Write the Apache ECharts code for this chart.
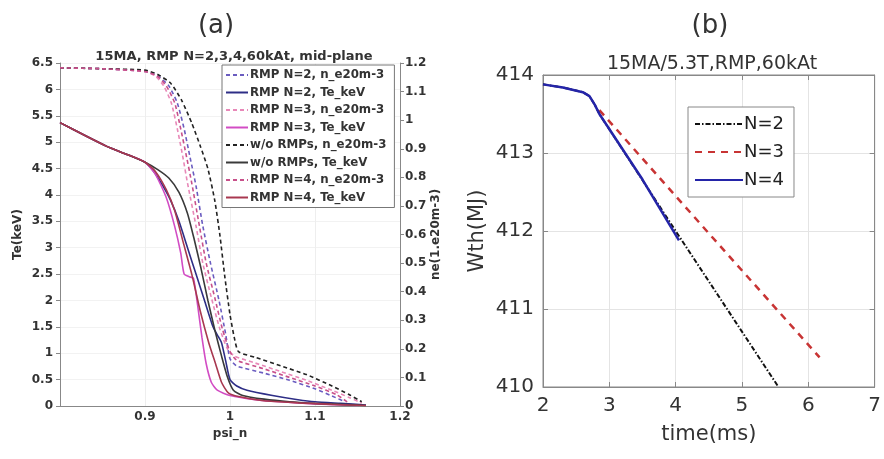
<!DOCTYPE html>
<html>
<head>
<meta charset="utf-8">
<script src="https://cdn.jsdelivr.net/npm/echarts@6/dist/echarts.min.js"></script>
<style>html,body{margin:0;padding:0;background:#fff;}#c{width:884px;height:459px;}</style>
</head>
<body>
<div id="c"></div>
<script>
// ---------- Panel (a) data: [psi_n, value] ----------
var n2_ne = [[0.8,1.183],[0.85,1.18],[0.9,1.17],[0.915,1.155],[0.928,1.12],[0.938,1.06],[0.946,0.97],[0.953,0.87],[0.96,0.77],[0.968,0.63],[0.977,0.5],[0.987,0.37],[0.995,0.25],[1.0,0.165],[1.008,0.14],[1.04,0.115],[1.07,0.09],[1.1,0.06],[1.12,0.035],[1.135,0.015]];
var n2_te = [[0.8,5.37],[0.83,5.12],[0.855,4.92],[0.88,4.76],[0.9,4.62],[0.91,4.45],[0.92,4.2],[0.93,3.9],[0.94,3.5],[0.95,3.0],[0.96,2.5],[0.97,2.0],[0.98,1.5],[0.985,1.35],[0.99,1.2],[0.995,0.85],[1.0,0.5],[1.008,0.38],[1.02,0.3],[1.05,0.2],[1.08,0.12],[1.1,0.08],[1.13,0.05],[1.16,0.02]];
var n3_ne = [[0.8,1.183],[0.85,1.18],[0.9,1.17],[0.912,1.155],[0.922,1.12],[0.931,1.06],[0.938,0.97],[0.944,0.88],[0.95,0.78],[0.96,0.63],[0.968,0.5],[0.978,0.38],[0.988,0.27],[0.997,0.2],[1.005,0.175],[1.03,0.15],[1.06,0.12],[1.09,0.09],[1.12,0.055],[1.14,0.03],[1.155,0.01]];
var n3_te = [[0.8,5.37],[0.83,5.12],[0.855,4.92],[0.88,4.76],[0.9,4.62],[0.912,4.4],[0.925,3.95],[0.935,3.4],[0.942,2.9],[0.946,2.5],[0.952,2.45],[0.957,2.42],[0.962,1.9],[0.967,1.3],[0.972,0.8],[0.978,0.45],[0.985,0.3],[1.0,0.2],[1.03,0.12],[1.06,0.08],[1.1,0.04],[1.15,0.01]];
var wo_ne = [[0.8,1.183],[0.85,1.18],[0.9,1.175],[0.915,1.16],[0.93,1.13],[0.943,1.07],[0.955,0.99],[0.965,0.91],[0.974,0.83],[0.982,0.72],[0.988,0.6],[0.994,0.45],[1.0,0.32],[1.005,0.24],[1.01,0.19],[1.03,0.17],[1.06,0.14],[1.09,0.11],[1.12,0.07],[1.14,0.04],[1.155,0.015]];
var wo_te = [[0.8,5.37],[0.83,5.12],[0.855,4.92],[0.88,4.76],[0.9,4.62],[0.915,4.48],[0.928,4.32],[0.94,4.05],[0.95,3.65],[0.958,3.15],[0.966,2.6],[0.974,2.0],[0.982,1.45],[0.99,0.95],[0.997,0.55],[1.004,0.3],[1.015,0.2],[1.04,0.13],[1.07,0.08],[1.1,0.05],[1.13,0.03],[1.16,0.01]];
var n4_ne = [[0.8,1.183],[0.85,1.18],[0.9,1.17],[0.914,1.155],[0.925,1.12],[0.935,1.06],[0.942,0.97],[0.949,0.87],[0.955,0.78],[0.964,0.63],[0.972,0.5],[0.982,0.38],[0.991,0.27],[1.0,0.19],[1.008,0.16],[1.04,0.13],[1.07,0.1],[1.1,0.07],[1.125,0.04],[1.14,0.01]];
var n4_te = [[0.8,5.37],[0.83,5.12],[0.855,4.92],[0.88,4.76],[0.9,4.62],[0.912,4.45],[0.925,4.1],[0.935,3.7],[0.945,3.1],[0.955,2.5],[0.965,1.8],[0.975,1.2],[0.983,0.8],[0.99,0.45],[0.998,0.25],[1.01,0.18],[1.04,0.1],[1.08,0.06],[1.12,0.03],[1.16,0.01]];
var namesA = ['RMP N=2, n_e20m-3','RMP N=2, Te_keV','RMP N=3, n_e20m-3','RMP N=3, Te_keV','w/o RMPs, n_e20m-3','w/o RMPs, Te_keV','RMP N=4, n_e20m-3','RMP N=4, Te_keV'];

// ---------- Panel (b) data: [time ms, Wth MJ] ----------
var wN2 = [[2,413.88],[2.3,413.84],[2.6,413.78],[2.7,413.73],[2.78,413.62],[2.85,413.5],[4.0,412.0],[5.55,410.0]];
var wN3 = [[2.85,413.55],[4.5,411.97],[6.17,410.38]];
var wN4 = [[2,413.88],[2.3,413.84],[2.6,413.78],[2.7,413.73],[2.78,413.62],[2.85,413.5],[3.5,412.66],[4.05,411.88]];
var namesB = ['N=2','N=3','N=4'];

var fA = 'DejaVu Sans';
var fB = 'DejaVu Sans';
var chart = echarts.init(document.getElementById('c'));

function lineA(name, data, y, color, dashed) {
  return {name:name, type:'line', xAxisIndex:0, yAxisIndex:y, data:data, showSymbol:false, symbol:'none',
    smooth:0.2, lineStyle:{color:color, width:1.6, type: dashed ? [4,3] : 'solid'}, itemStyle:{color:color}, z: dashed?2:3};
}

var axLabA = {color:'#333', fontFamily:fA, fontWeight:'bold', fontSize:12};

chart.setOption({
  animation:false,
  backgroundColor:'#fff',
  title:[
    {text:'(a)', left:211, top:8, textAlign:'center', textStyle:{fontFamily:fB, fontWeight:'normal', fontSize:26, color:'#333'}},
    {text:'15MA, RMP N=2,3,4,60kAt, mid-plane', left:229, top:45, textAlign:'center', textStyle:{fontFamily:fA, fontWeight:'bold', fontSize:13, color:'#333'}},
    {text:'(b)', left:705, top:8, textAlign:'center', textStyle:{fontFamily:fB, fontWeight:'normal', fontSize:26, color:'#333'}},
    {text:'15MA/5.3T,RMP,60kAt', left:707, top:50, textAlign:'center', textStyle:{fontFamily:fB, fontWeight:'normal', fontSize:19, color:'#333'}}
  ],
  grid:[
    {left:60, top:63, width:340, height:343},
    {left:543, top:75, width:335, height:312, show:true, borderColor:'#888', borderWidth:1}
  ],
  legend:[
    {data:namesA, orient:'vertical', left:222, top:65, itemWidth:22, itemHeight:12, itemGap:5.5,
     padding:[4,8,4,3], borderColor:'#777', borderWidth:1, backgroundColor:'#fff',
     itemStyle:{opacity:0},
     textStyle:{fontFamily:fA, fontWeight:'bold', fontSize:11.8, color:'#333', padding:[0,0,0,-3]}},
    {data:namesB, orient:'vertical', left:688, top:107, itemWidth:48, itemHeight:18, itemGap:10,
     padding:[8,10,8,6], borderColor:'#888', borderWidth:1, backgroundColor:'#fff',
     itemStyle:{opacity:0},
     textStyle:{fontFamily:fB, fontSize:18, color:'#222', padding:[0,0,0,-4]}}
  ],
  xAxis:[
    {type:'value', gridIndex:0, min:0.8, max:1.2, interval:0.1, name:'psi_n', nameLocation:'middle', nameGap:20,
     nameTextStyle:axLabA,
     axisLine:{lineStyle:{color:'#888'}}, axisTick:{show:false},
     axisLabel:Object.assign({margin:5, showMinLabel:false}, axLabA),
     splitLine:{show:true, lineStyle:{color:'#eeeeee'}}},
    {type:'value', gridIndex:1, min:2, max:7, interval:1, name:'time(ms)', nameLocation:'middle', nameGap:37,
     nameTextStyle:{fontFamily:fB, fontSize:21, color:'#333'},
     axisLine:{lineStyle:{color:'#888'}}, axisTick:{inside:true, length:5, lineStyle:{color:'#888'}},
     axisLabel:{fontFamily:fB, fontSize:20, color:'#333', margin:9},
     splitLine:{show:true, lineStyle:{color:'#e4e4e4'}}},
    {type:'value', gridIndex:1, min:2, max:7, interval:1, position:'top',
     axisLine:{lineStyle:{color:'#888'}}, axisTick:{inside:true, length:5, lineStyle:{color:'#888'}},
     axisLabel:{show:false}, splitLine:{show:false}}
  ],
  yAxis:[
    {type:'value', gridIndex:0, min:0, max:6.5, interval:0.5, name:'Te(keV)', nameLocation:'middle', nameGap:36,
     nameTextStyle:axLabA,
     axisLine:{show:true, lineStyle:{color:'#888'}}, axisTick:{show:true, length:4, lineStyle:{color:'#888'}},
     axisLabel:Object.assign({margin:7}, axLabA),
     splitLine:{show:true, lineStyle:{color:'#f2f2f2'}}},
    {type:'value', gridIndex:0, min:0, max:1.2, interval:0.1, position:'right', name:'ne(1.e20m-3)', nameLocation:'middle', nameGap:30,
     nameTextStyle:axLabA,
     axisLine:{show:true, lineStyle:{color:'#888'}}, axisTick:{show:true, length:4, lineStyle:{color:'#888'}},
     axisLabel:Object.assign({margin:5}, axLabA),
     splitLine:{show:false}},
    {type:'value', gridIndex:1, min:410, max:414, interval:1, name:'Wth(MJ)', nameLocation:'middle', nameGap:55,
     nameTextStyle:{fontFamily:fB, fontSize:21, color:'#333'},
     axisLine:{show:true, lineStyle:{color:'#888'}}, axisTick:{inside:true, length:5, lineStyle:{color:'#888'}},
     axisLabel:{fontFamily:fB, fontSize:20, color:'#333', margin:9},
     splitLine:{show:true, lineStyle:{color:'#e4e4e4'}}},
    {type:'value', gridIndex:1, min:410, max:414, interval:1, position:'right',
     axisLine:{show:true, lineStyle:{color:'#888'}}, axisTick:{inside:true, length:5, lineStyle:{color:'#888'}},
     axisLabel:{show:false}, splitLine:{show:false}}
  ],
  series:[
    lineA(namesA[0], n2_ne, 1, '#6a5cc0', true),
    lineA(namesA[1], n2_te, 0, '#2e2e86', false),
    lineA(namesA[2], n3_ne, 1, '#e888b8', true),
    lineA(namesA[3], n3_te, 0, '#d24cc4', false),
    lineA(namesA[4], wo_ne, 1, '#222222', true),
    lineA(namesA[5], wo_te, 0, '#3a3a3a', false),
    lineA(namesA[6], n4_ne, 1, '#c8508a', true),
    lineA(namesA[7], n4_te, 0, '#a83850', false),
    {name:namesB[0], type:'line', xAxisIndex:1, yAxisIndex:2, data:wN2, showSymbol:false, symbol:'none',
     lineStyle:{color:'#111', width:2, type:[5,2,1.5,2]}, itemStyle:{color:'#111'}, z:3},
    {name:namesB[1], type:'line', xAxisIndex:1, yAxisIndex:2, data:wN3, showSymbol:false, symbol:'none',
     lineStyle:{color:'#c83434', width:2.5, type:[7,6]}, itemStyle:{color:'#c83434'}, z:2},
    {name:namesB[2], type:'line', xAxisIndex:1, yAxisIndex:2, data:wN4, showSymbol:false, symbol:'none',
     lineStyle:{color:'#2424a8', width:2.5}, itemStyle:{color:'#2424a8'}, z:4}
  ]
});
</script>
</body>
</html>
